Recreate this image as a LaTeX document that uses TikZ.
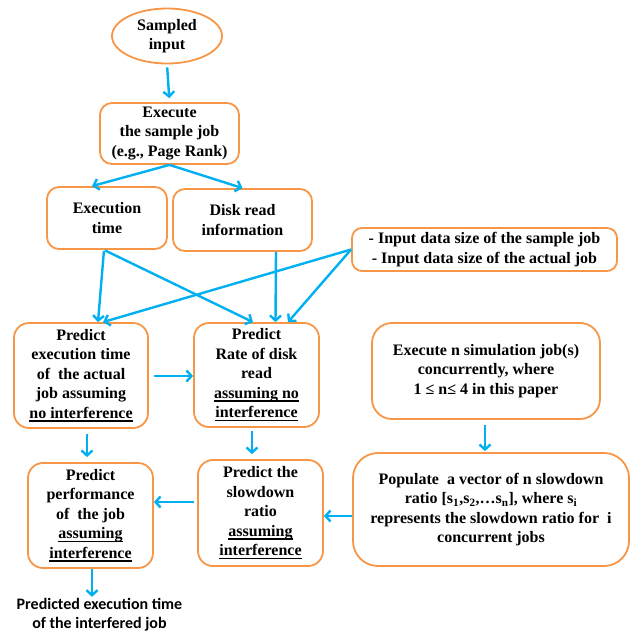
\documentclass[tikz,border=0pt]{standalone}
\usepackage{fontspec}
\setmainfont{Liberation Serif}
\newfontfamily\calib{Carlito}
\newsavebox\myulbox
\newcommand\myul[1]{\sbox\myulbox{#1}\leavevmode\rlap{\rule[-3.5pt]{\wd\myulbox}{1.6pt}}\usebox\myulbox}
\usetikzlibrary{arrows.meta,shapes.geometric}
\definecolor{orng}{RGB}{247,150,70}
\definecolor{arrblue}{RGB}{0,176,240}
\begin{document}
\begin{tikzpicture}[x=1pt,y=-1pt,
  txt/.style={font=\fontsize{16}{19.5}\selectfont\bfseries, align=center, inner sep=0pt},
  rbox/.style={txt, draw=orng, line width=1.8pt, rectangle, rounded corners=#1},
  rbox/.default=12pt,
  arr/.style={draw=arrblue, line width=2.4pt, -{Straight Barb[length=5pt,width=11pt]}}
]
\useasboundingbox (0,0) rectangle (631,633);

\node[txt, ellipse, draw=orng, line width=1.8pt, minimum width=110pt, minimum height=55pt] (samp) at (167,36) {Sampled\\input};
\node[rbox, minimum width=139pt, minimum height=61pt] (exec) at (169.5,133.5) {Execute\\the sample job\\(e.g., Page Rank)};
\node[rbox, minimum width=120pt, minimum height=62pt] (etime) at (107,218) {Execution\\time};
\node[rbox, minimum width=139pt, minimum height=62pt] (disk) at (242.5,220) {Disk read\\information};
\node[rbox=10pt, minimum width=265pt, minimum height=43pt] (input) at (484.5,249.5) {- Input data size of the sample job\\- Input data size of the actual job};
\node[rbox=15pt, minimum width=134pt, minimum height=105pt] (pexec) at (81,375.5) {Predict\\execution time\\of\ \ the actual\\job assuming\\\myul{no interference}};
\node[rbox=15pt, minimum width=125pt, minimum height=104pt] (prate) at (256.5,375) {Predict\\Rate of disk\\read\\\myul{assuming no}\\\myul{interference}};
\node[rbox=20pt, minimum width=228pt, minimum height=96pt] (esim) at (486,371) {Execute n simulation job(s)\\concurrently, where\\1 ≤ n≤ 4 in this paper};
\node[rbox=15pt, minimum width=125pt, minimum height=105pt] (pperf) at (90.5,515.5) {Predict\\performance\\of\ \ the job\\\myul{assuming}\\\myul{interference}};
\node[rbox=15pt, minimum width=125pt, minimum height=106pt] (pslow) at (260.5,513) {Predict the\\slowdown\\ratio\\\myul{assuming}\\\myul{interference}};
\node[rbox=25pt, minimum width=276pt, minimum height=113pt] (pop) at (491,509.5) {Populate\ \ a vector of n slowdown\\ratio [s\textsubscript{1},s\textsubscript{2},…s\textsubscript{n}], where s\textsubscript{i}\\represents the slowdown ratio for\ \ i\\concurrent jobs};
\node[txt, font=\fontsize{16}{19}\selectfont\calib\bfseries] (out) at (99.5,614.5) {Predicted execution time\\of the interfered job};

\draw[arr, shorten <=3pt, shorten >=4pt] (samp.south) -- (exec.north);
\draw[arr] (exec.south) -- ([xshift=-15pt]etime.north);
\draw[arr] (exec.south) -- (disk.north);
\draw[arr, shorten <=1pt] ([xshift=-3pt]etime.south) -- ([xshift=17pt]pexec.north);
\draw[arr, shorten <=1pt] ([xshift=-3pt]etime.south) -- ([xshift=-3.5pt]prate.north);
\draw[arr] ([xshift=33.5pt]disk.south) -- ([xshift=19pt]prate.north);
\draw[arr] (input.west) -- ([xshift=22pt]pexec.north);
\draw[arr] (input.west) -- ([xshift=31.5pt]prate.north);
\draw[arr, shorten <=5pt] ([yshift=-0.5pt]pexec.east) -- ([yshift=-1pt]prate.west);
\draw[arr, shorten <=5pt, shorten >=5pt] ([xshift=6pt]pexec.south) -- ([xshift=-3.5pt]pperf.north);
\draw[arr, shorten <=3pt, shorten >=5pt] ([xshift=-4.5pt]prate.south) -- ([xshift=-8.5pt]pslow.north);
\draw[arr, shorten <=5pt, shorten >=1pt] ([xshift=-1pt]esim.south) -- ([xshift=-6pt]pop.north);
\draw[arr] ([yshift=-6.5pt]pop.west) -- ([yshift=-3pt]pslow.east);
\draw[arr, shorten <=3pt] ([yshift=11pt]pslow.west) -- ([yshift=13.5pt]pperf.east);
\draw[arr, shorten >=1pt] ([xshift=1.5pt]pperf.south) -- ([xshift=-7.5pt]out.north);
\end{tikzpicture}
\end{document}
